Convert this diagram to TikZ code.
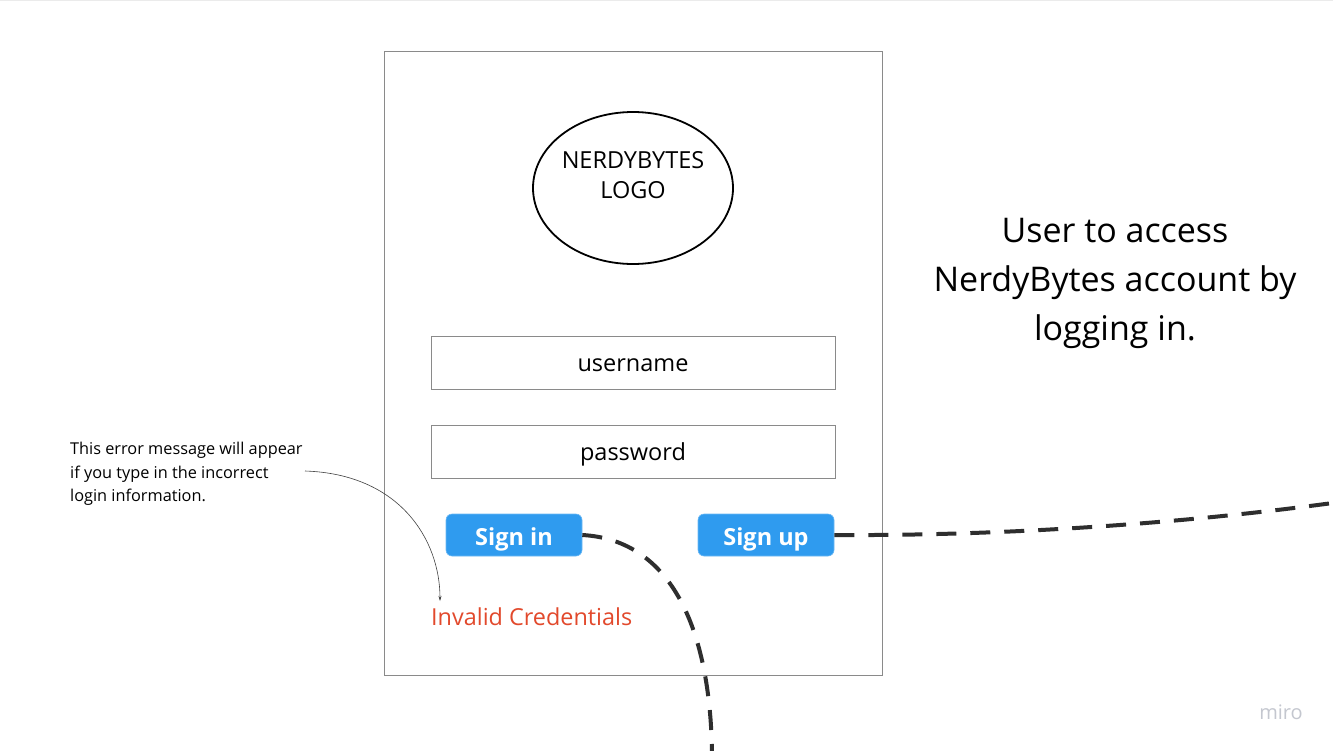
\documentclass[tikz,border=0pt]{standalone}
\usepackage{fontspec}
\setmainfont{Open Sans}
\usetikzlibrary{arrows.meta,shapes.geometric}
\definecolor{btnblue}{HTML}{2F9BEF}
\definecolor{errred}{HTML}{E2492C}
\definecolor{dashdark}{HTML}{2E2E2E}
\definecolor{frame}{HTML}{8A8A8A}
\definecolor{mirogrey}{HTML}{C4C7CF}
\tikzset{
  field/.style={draw=frame, line width=0.9pt, minimum width=404pt, minimum height=53pt, inner sep=0pt},
  fieldtext/.style={inner sep=0pt, font=\fontsize{23.5}{26}\selectfont},
  btn/.style={fill=btnblue, draw=btnblue!70!white, line width=0.6pt, rounded corners=6pt, minimum width=136pt, minimum height=42pt, inner sep=0pt},
  btntext/.style={inner sep=0pt, text=white, font=\fontsize{23.5}{28}\selectfont\bfseries},
  flow/.style={draw=dashdark, line width=4pt, dash pattern=on 20pt off 14pt},
}
\begin{document}
\begin{tikzpicture}[x=1pt,y=-1pt]
\useasboundingbox (0,0) rectangle (1333,750);
\fill[white] (0,0) rectangle (1333,750);
\draw[black!8, line width=0.6pt] (0,0.5) -- (1333,0.5);
% phone frame
\node[draw=frame, line width=0.9pt, minimum width=498pt, minimum height=624pt, inner sep=0pt] (phone) at (633,363) {};
% logo
\node[draw=black, line width=1.8pt, ellipse, minimum width=200pt, minimum height=152pt, inner sep=0pt] (logo) at (633,188) {};
\node[align=center, inner sep=0pt, font=\fontsize{23.5}{30}\selectfont] (logotext) at (633,175) {NERDYBYTES\\LOGO};
% fields
\node[field] (user) at (633,362.5) {};
\node[fieldtext] (usertext) at ([yshift=-3pt]user.center) {username};
\node[field] (pass) at (633,451.5) {};
\node[fieldtext] (passtext) at ([yshift=-3pt]pass.center) {password};
% buttons
\node[btn] (signin) at (514,535) {};
\node[btntext] (signintext) at ([yshift=-4.5pt]signin.center) {Sign in};
\node[btn] (signup) at (766,535) {};
\node[btntext] (signuptext) at ([yshift=-4.5pt]signup.center) {Sign up};
% error
\node[anchor=west, inner sep=0pt, text=errred, font=\fontsize{23.4}{26}\selectfont] (err) at (431,617) {Invalid Credentials};
% annotation
\node[anchor=north west, inner sep=0pt, align=left, font=\fontsize{16.3}{23.5}\selectfont] (note) at (70,442) {This error message will appear\\if you type in the incorrect\\login information.};
\coordinate (noteend) at (305,471);
\coordinate (errtop) at (440,601);
\draw[black!75, line width=0.6pt, -{Stealth[length=5pt,width=3pt]}] (noteend) .. controls (400,474) and (440,540) .. (errtop);
% right text
\node[align=center, inner sep=0pt, font=\fontsize{34}{49}\selectfont] (desc) at (1115,283) {User to access\\NerdyBytes account by\\logging in.};
% miro
\node[text=mirogrey, inner sep=0pt, font=\fontsize{20}{22}\selectfont] (miro) at (1281,712) {miro};
% dashed flows
\coordinate (downend) at (712,752);
\coordinate (rightend) at (1340,502);
\draw[flow] (signin.east) .. controls (672,540) and (710,630) .. (downend);
\draw[flow] (signup.east) .. controls (1000,536) and (1180,524) .. (rightend);
\end{tikzpicture}
\end{document}
